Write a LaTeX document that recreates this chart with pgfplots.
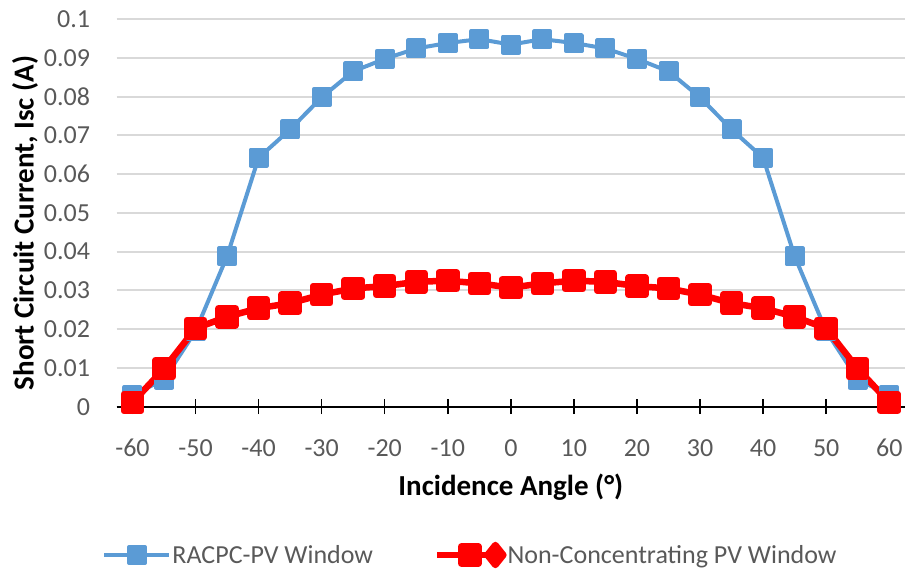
\documentclass[border=0pt]{standalone}
\usepackage{pgfplots}
\pgfplotsset{compat=1.18}
\usepackage{pgfplotstable}
\usepackage{fontspec}
\setmainfont{Carlito}
\definecolor{racpc}{HTML}{5B9BD5}
\definecolor{ncpv}{HTML}{FF0000}
\definecolor{gridgray}{HTML}{D9D9D9}
\definecolor{ticktext}{HTML}{595959}

% short circuit current vs incidence angle
\pgfplotstableread{
angle racpc  ncpv
-60   0.0030 0.0011
-55   0.0070 0.0098
-50   0.0195 0.0202
-45   0.0388 0.0232
-40   0.0642 0.0254
-35   0.0715 0.0267
-30   0.0798 0.0289
-25   0.0865 0.0305
-20   0.0897 0.0311
-15   0.0924 0.0322
-10   0.0938 0.0325
-5    0.0948 0.0318
0     0.0934 0.0307
5     0.0948 0.0318
10    0.0938 0.0325
15    0.0924 0.0322
20    0.0897 0.0311
25    0.0865 0.0305
30    0.0798 0.0289
35    0.0715 0.0267
40    0.0642 0.0254
45    0.0388 0.0232
50    0.0195 0.0202
55    0.0070 0.0098
60    0.0030 0.0011
}\isctable

\begin{document}
\begin{tikzpicture}
\useasboundingbox (0,0) rectangle (906pt,570pt);
\begin{axis}[
    at={(116.7pt,163.3pt)}, anchor=south west,
    scale only axis, width=788.3pt, height=387.7pt,
    xmin=-62.5, xmax=62.5, ymin=0, ymax=0.1,
    clip=false,
    xtick={-60,-50,-40,-30,-20,-10,0,10,20,30,40,50,60},
    xticklabels={-60,-50,-40,-30,-20,-10,0,10,20,30,40,50,60},
    ytick={0,0.01,0.02,0.03,0.04,0.05,0.06,0.07,0.08,0.09,0.1},
    yticklabels={0,0.01,0.02,0.03,0.04,0.05,0.06,0.07,0.08,0.09,0.1},
    axis x line*=bottom, axis y line*=left,
    x axis line style={black, line width=2pt, -},
    y axis line style={draw=none},
    ytick style={draw=none},
    xtick style={black, line width=1.5pt},
    tick align=center, major tick length=15pt,
    ymajorgrids, grid style={gridgray, line width=2pt},
    ticklabel style={font=\fontsize{26}{30}\selectfont, text=ticktext},
    yticklabel style={anchor=east, inner sep=0pt, xshift=-19pt},
    xticklabel style={anchor=north, inner sep=0pt, yshift=-25pt},
    xlabel={Incidence Angle (°)},
    ylabel={Short Circuit Current, Isc (A)},
    label style={font=\fontsize{29}{34}\selectfont\bfseries},
    xlabel style={at={(axis description cs:0.5,-0.207)}, anchor=center},
    ylabel style={at={(axis description cs:-0.1163,0.4736)}, anchor=center},
    legend columns=2,
    legend style={at={(axis description cs:0.4482,-0.3825)}, anchor=center,
        draw=none, fill=none, font=\fontsize{26}{30}\selectfont, text=ticktext,
        inner sep=0pt, nodes={inner sep=1pt},
        /tikz/every even column/.append style={column sep=60pt}},
]
\addplot[racpc, line width=4pt, line join=round, mark=square*, mark size=8pt,
    mark options={draw=none, fill=racpc},
    legend image code/.code={
        \draw[racpc, line width=4pt] (0pt,0pt) -- (65pt,0pt);
        \fill[racpc] (24.5pt,-8pt) rectangle (40.5pt,8pt);
    }] table[x=angle, y=racpc] {\isctable};
\addlegendentry{RACPC-PV Window}
\addplot[ncpv, line width=6.5pt, line join=round, mark=square*, mark size=8.5pt,
    mark options={draw=none, fill=ncpv},
    legend image code/.code={
        \draw[ncpv, line width=6.5pt] (0pt,0pt) -- (58pt,0pt);
        \fill[ncpv] (24pt,-8.5pt) rectangle (41pt,8.5pt);
        \fill[ncpv] (58pt,-10pt) -- (66pt,0pt) -- (58pt,10pt) -- (50pt,0pt) -- cycle;
    }] table[x=angle, y=ncpv] {\isctable};
\addlegendentry{Non-Concentrating PV Window}
\end{axis}
\end{tikzpicture}
\end{document}
